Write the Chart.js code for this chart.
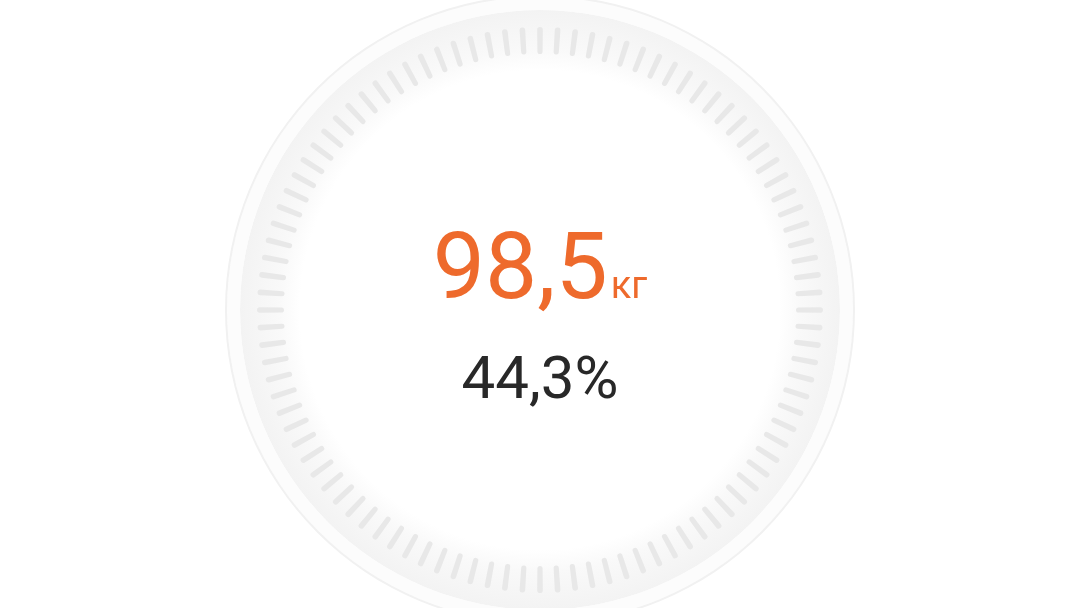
<!DOCTYPE html>
<html>
<head>
<meta charset="utf-8">
<script src="https://cdn.jsdelivr.net/npm/chart.js@4/dist/chart.umd.min.js"></script>
<style>
    html, body { margin: 0; padding: 0; background: #fff; }
    #wrap { position: relative; width: 1080px; height: 608px; overflow: hidden; }
    #wrap canvas { position: absolute; left: 0; top: 0; }
    .readout { position: absolute; left: 0; width: 1080px; text-align: center; font-family: Roboto, "Noto Sans", sans-serif; white-space: nowrap; }
    #weight { top: 220px; font-size: 93px; line-height: 93px; color: #ee6a2c; }
    #weight span { font-size: 38px; margin-left: 3px; }
    #share { top: 348px; font-size: 60px; line-height: 60px; color: #282828; }
</style>
</head>
<body>
<div id="wrap">
    <canvas id="dialBack" width="1080" height="608"></canvas>
    <canvas id="dialTicks" width="1080" height="608"></canvas>
    <div class="readout" id="weight"></div>
    <div class="readout" id="share"></div>
</div>
<script>
// values shown on the dial
const weightValue = [98.5];
const weightUnit = ['кг'];
const shareValue = [44.3];

// dial scale: 100 marks around the circle, mark vs gap share of each step
const tickCount = [100];
const tickShare = [0.32, 0.68];

function fmt(v) {
    return v.toFixed(1).replace('.', ',');
}

document.getElementById('weight').innerHTML = fmt(weightValue[0]) + '<span>' + weightUnit[0] + '</span>';
document.getElementById('share').textContent = fmt(shareValue[0]) + '%';

// radial fade of the grey band, centred on the chart
function bandFill(context) {
    const chart = context.chart;
    const area = chart.chartArea;
    if (!area) return '#f5f5f5';
    const cx = (area.left + area.right) / 2;
    const cy = (area.top + area.bottom) / 2;
    const g = chart.ctx.createRadialGradient(cx, cy, 240, cx, cy, 300);
    g.addColorStop(0, '#ffffff');
    g.addColorStop(0.35, '#f9f9f9');
    g.addColorStop(1, '#f3f3f3');
    return g;
}

const common = {
    responsive: false,
    animation: false,
    events: [],
    layout: { padding: { top: 12 } },
    plugins: { legend: { display: false }, tooltip: { enabled: false } }
};

// background rings: thin outer line, pale rim, grey band
new Chart(document.getElementById('dialBack'), {
    type: 'doughnut',
    data: {
        datasets: [
            { data: [1], weight: 2, backgroundColor: '#f1f1f1', borderWidth: 0 },
            { data: [1], weight: 13, backgroundColor: '#fcfcfc', borderWidth: 0 },
            { data: [1], weight: 60, backgroundColor: bandFill, borderWidth: 0 }
        ]
    },
    options: Object.assign({}, common, {
        radius: 315,
        cutout: (240 / 315 * 100) + '%'
    })
});

// tick marks
let tickData = [];
let tickColors = [];
for (let i = 0; i < tickCount[0]; i++) {
    tickData.push(tickShare[0], tickShare[1]);
    tickColors.push('#e8e8e8', 'rgba(0,0,0,0)');
}

new Chart(document.getElementById('dialTicks'), {
    type: 'doughnut',
    data: {
        datasets: [{
            data: tickData,
            backgroundColor: tickColors,
            borderWidth: 0,
            borderRadius: 3
        }]
    },
    options: Object.assign({}, common, {
        radius: 283,
        cutout: (256 / 283 * 100) + '%',
        rotation: -(tickShare[0] / 2) * 360 / tickCount[0]
    })
});
</script>
</body>
</html>
